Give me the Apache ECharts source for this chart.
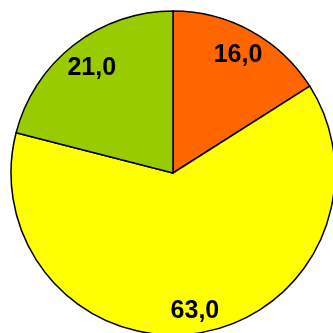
<!DOCTYPE html>
<html>
<head>
<meta charset="utf-8">
<style>
  html, body { margin: 0; padding: 0; background: #fff; }
  #chart { width: 333px; height: 333px; }
</style>
<script src="https://cdn.jsdelivr.net/npm/echarts@6/dist/echarts.min.js"></script>
</head>
<body>
<div id="chart"></div>
<script>
// Slice values, clockwise from 12 o'clock
const categories = ['A', 'B', 'C'];
const values = [16.0, 63.0, 21.0];
const colors = ['#FF6600', '#FFFF00', '#99CC00'];

const fmt = v => v.toFixed(1).replace('.', ',');

const chart = echarts.init(document.getElementById('chart'), null, { renderer: 'canvas' });

const labelStyle = {
  show: true,
  position: 'inside',
  formatter: p => fmt(p.value),
  color: '#000',
  fontFamily: 'Liberation Sans, Arial, sans-serif',
  fontWeight: 'bold',
  fontSize: 25
};

// transparent ring that only carries the value label of one slice
function labelRing(radius, shown) {
  return {
    type: 'pie',
    center: [173, 173],
    radius: radius,
    startAngle: 90,
    clockwise: true,
    silent: true,
    itemStyle: { color: 'rgba(0,0,0,0)', borderWidth: 0 },
    label: labelStyle,
    labelLine: { show: false },
    data: categories.map((c, i) => ({
      name: c,
      value: values[i],
      label: { show: i === shown }
    }))
  };
}

chart.setOption({
  animation: false,
  series: [
    {
      type: 'pie',
      center: [173, 173],
      radius: [0, 162],
      startAngle: 90,
      clockwise: true,
      silent: true,
      itemStyle: { borderColor: '#000', borderWidth: 1.5 },
      label: { show: false },
      labelLine: { show: false },
      data: categories.map((c, i) => ({
        name: c,
        value: values[i],
        itemStyle: { color: colors[i] }
      }))
    },
    labelRing([102, 162], 0),
    labelRing([112, 162], 1),
    labelRing([97, 162], 2)
  ]
});
</script>
</body>
</html>
